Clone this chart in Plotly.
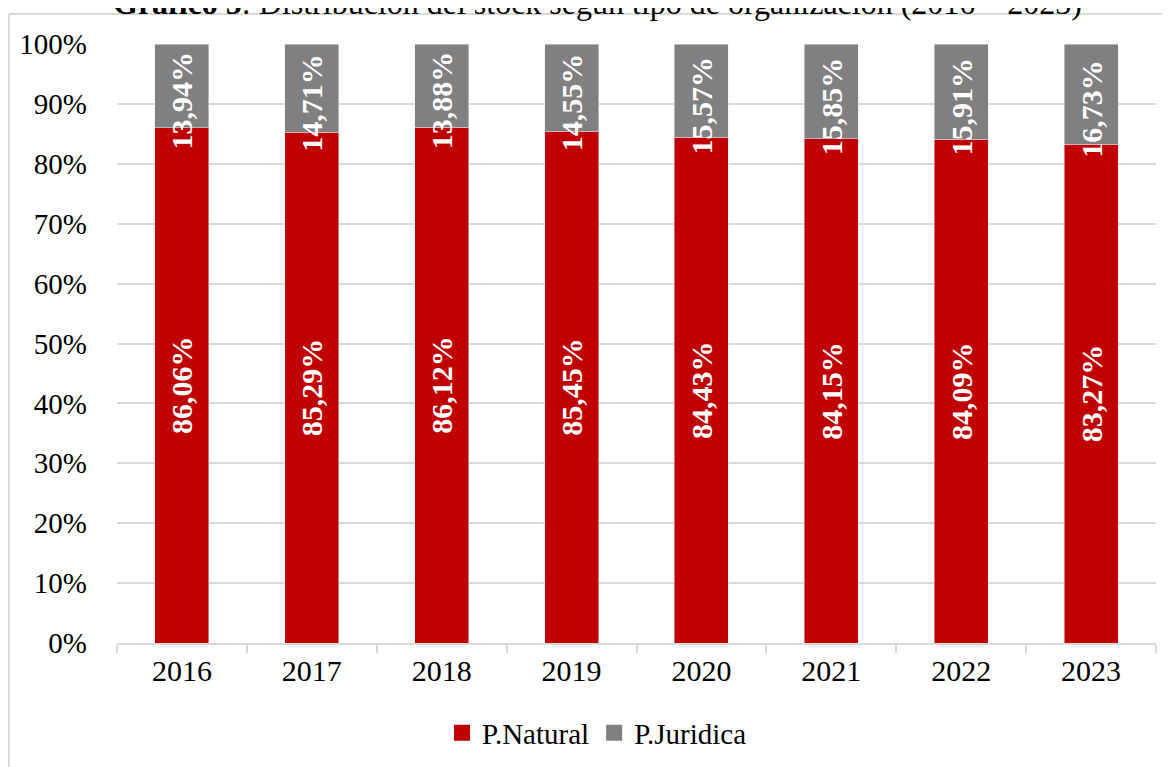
import plotly.graph_objects as go

years = ["2016", "2017", "2018", "2019", "2020", "2021", "2022", "2023"]
natural = [86.06, 85.29, 86.12, 85.45, 84.43, 84.15, 84.09, 83.27]
juridica = [13.94, 14.71, 13.88, 14.55, 15.57, 15.85, 15.91, 16.73]
y_ticks = [0, 10, 20, 30, 40, 50, 60, 70, 80, 90, 100]
series_names = ["P.Natural", "P.Juridica"]
series_colors = ["#C00000", "#808080"]
label_pad = ["", "\u2003"]

def fmt(v, pad=""):
    return "<b>" + f"{v:.2f}".replace(".", ",") + "%" + pad + "</b>"

FONT = "Liberation Serif, Times New Roman, serif"

fig = go.Figure()
for vals, name, color, pad in zip([natural, juridica], series_names, series_colors, label_pad):
    fig.add_trace(go.Bar(
        x=years, y=vals, name=name, marker_color=color, showlegend=False,
        text=[fmt(v, pad) for v in vals], textposition="inside", textangle=-90,
        insidetextanchor="middle", constraintext="none",
        textfont=dict(family=FONT, size=30, color="white"),
        hoverinfo="skip",
    ))
# legend entries with larger square swatches
for name, color in zip(series_names, series_colors):
    fig.add_trace(go.Scatter(
        x=[None], y=[None], mode="markers", name=name,
        marker=dict(symbol="square", size=16, color=color), showlegend=True,
    ))

fig.update_layout(
    width=1170, height=767, autosize=False,
    barmode="stack", bargap=0.585,
    plot_bgcolor="white", paper_bgcolor="white",
    margin=dict(l=109, r=22, t=36, b=132),
    font=dict(family=FONT, size=29, color="black"),
    showlegend=True,
    legend=dict(orientation="h", x=0.462, xanchor="center",
                y=-0.150, yanchor="middle", font=dict(size=29), traceorder="normal",
                itemwidth=30, tracegroupgap=0),
    xaxis=dict(showgrid=False, showline=True, linecolor="#d9d9d9", linewidth=2,
               ticks="outside", tickson="boundaries", ticklen=8, tickcolor="#d9d9d9",
               tickwidth=2, tickfont=dict(size=30), tickangle=0, automargin=False),
    yaxis=dict(range=[0, 100], tickmode="array", tickvals=y_ticks,
               ticktext=[f"{v}%" + "\u2003" for v in y_ticks], showgrid=True,
               gridcolor="#d9d9d9", gridwidth=2, zeroline=False, showline=False,
               tickfont=dict(size=29), automargin=False),
    shapes=[
        dict(type="line", xref="paper", yref="paper", x0=-0.104, x1=1.03,
             y0=1.050, y1=1.050, line=dict(color="#d9d9d9", width=2)),
        dict(type="line", xref="paper", yref="paper", x0=-0.104, x1=-0.104,
             y0=-0.25, y1=1.050, line=dict(color="#d9d9d9", width=2)),
    ],
    annotations=[dict(xref="paper", yref="paper", x=0.462, y=1.068,
                      xanchor="center", yanchor="middle", showarrow=False,
                      text="<b>Gráfico 5</b>: Distribución del stock según tipo de organización (2016 – 2023)",
                      font=dict(size=32, family=FONT))],
)

fig.write_html("out.html")
